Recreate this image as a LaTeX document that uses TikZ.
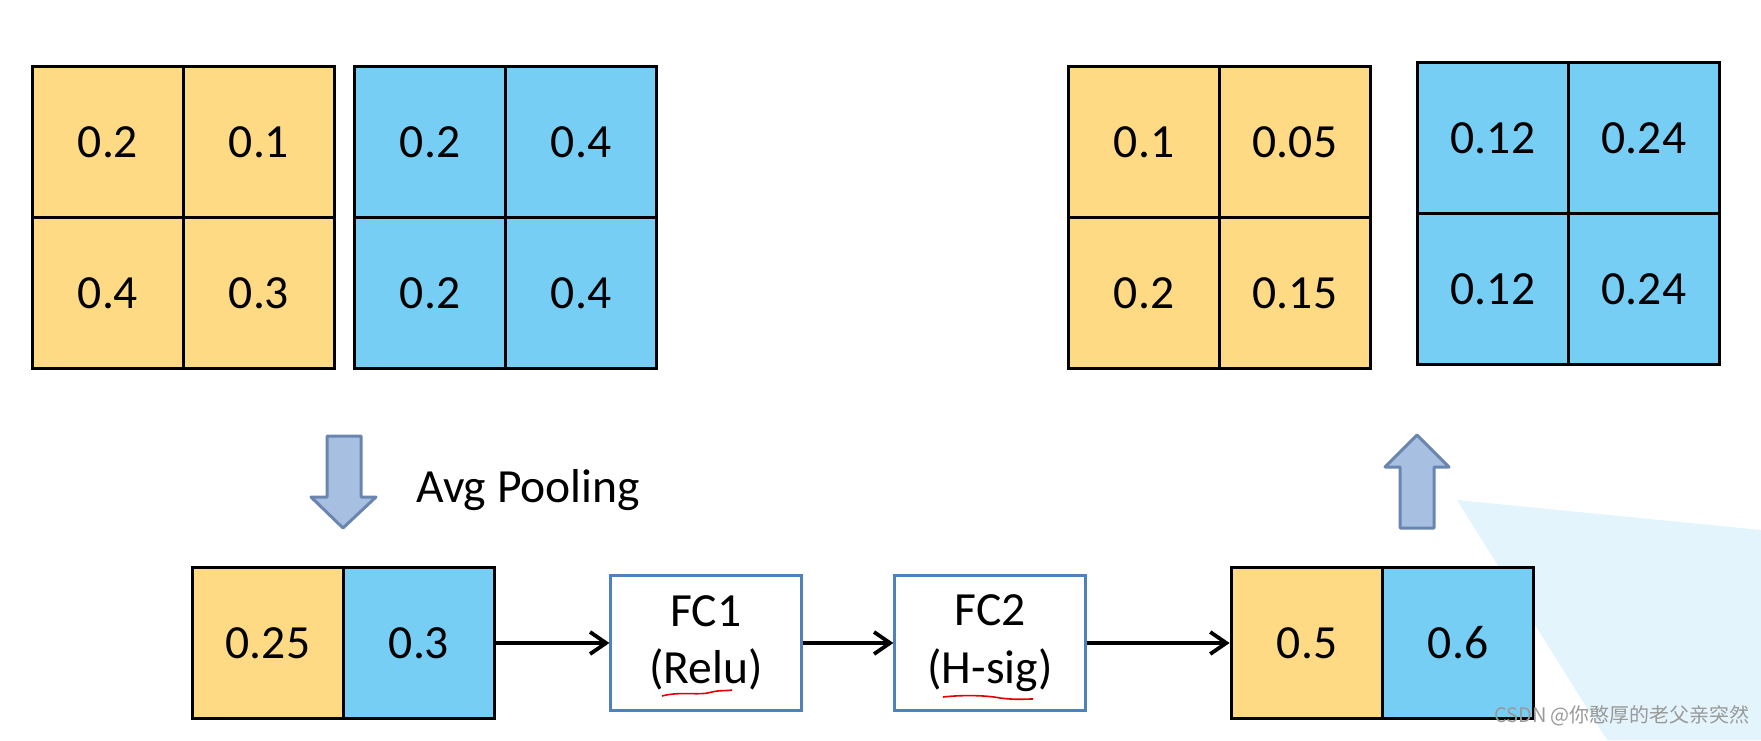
\documentclass[tikz,border=0pt]{standalone}
\usepackage{fontspec}
\setmainfont{Carlito}
\newfontfamily\cjkfont{Noto Sans CJK SC}
\usetikzlibrary{arrows.meta,decorations.pathmorphing}

\definecolor{cellyellow}{RGB}{255,218,132}
\definecolor{cellblue}{RGB}{118,206,244}
\definecolor{fcborder}{RGB}{79,129,189}
\definecolor{arrowfill}{RGB}{167,191,224}
\definecolor{arrowedge}{RGB}{106,134,176}
\definecolor{glare}{RGB}{227,244,252}

\begin{document}
\begin{tikzpicture}[x=0.5pt, y=0.5pt,
    cell/.style={draw=black, line width=1.9pt, minimum width=75.5pt, minimum height=75.5pt,
        inner sep=0pt, font=\fontsize{23.8}{28}\selectfont},
    ycell/.style={cell, fill=cellyellow},
    bcell/.style={cell, fill=cellblue},
    fcbox/.style={draw=fcborder, line width=1.1pt, fill=white, minimum width=95.5pt,
        minimum height=67.5pt, align=center, inner sep=0pt, font=\fontsize{23.8}{28.7}\selectfont},
    flow/.style={line width=1.9pt, -{Straight Barb[length=8pt, width=11pt, line width=1.9pt]}},
    fatarrow/.style={draw=arrowedge, fill=arrowfill, line width=1.5pt, line join=round},
    spell/.style={red!90!black, line width=0.8pt}
]
    \useasboundingbox (0,0) rectangle (1761,740);

    % glare
    \fill[glare] (1457,240) -- (1761,210) -- (1761,0) -- (1607,0) -- cycle;

    % input, first channel
    \node[ycell] (ya11) at (108,598) {0.2};
    \node[ycell] (ya12) at (259,598) {0.1};
    \node[ycell] (ya21) at (108,447) {0.4};
    \node[ycell] (ya22) at (259,447) {0.3};

    % input, second channel
    \node[bcell] (ba11) at (430,598) {0.2};
    \node[bcell] (ba12) at (581,598) {0.4};
    \node[bcell] (ba21) at (430,447) {0.2};
    \node[bcell] (ba22) at (581,447) {0.4};

    % output, first channel
    \node[ycell] (yb11) at (1144,598) {0.1};
    \node[ycell] (yb12) at (1295,598) {0.05};
    \node[ycell] (yb21) at (1144,447) {0.2};
    \node[ycell] (yb22) at (1295,447) {0.15};

    % output, second channel
    \node[bcell] (bb11) at (1493,602) {0.12};
    \node[bcell] (bb12) at (1644,602) {0.24};
    \node[bcell] (bb21) at (1493,451) {0.12};
    \node[bcell] (bb22) at (1644,451) {0.24};

    % pooling
    \draw[fatarrow] (327,304) -- (361,304) -- (361,243) -- (376,243) -- (343,212)
        -- (311,243) -- (327,243) -- cycle;
    \node[anchor=west, inner sep=0pt, font=\fontsize{23.8}{28}\selectfont] (avg) at (416,250) {Avg Pooling};

    % squeeze
    \node[ycell] (pool1) at (268,97) {0.25};
    \node[bcell] (pool2) at (419,97) {0.3};

    % excitation
    \node[fcbox] (fc1) at (706,97) {FC1\\(Relu)};
    \node[fcbox] (fc2) at (990,97) {FC2\\(H-sig)};
    \draw[spell] (662,44) .. controls (680,49) and (700,44) .. (712,48) .. controls (720,50) and (728,49) .. (732,50);
    \draw[spell] (943,43) .. controls (960,45) and (985,45) .. (1000,42) .. controls (1015,40) and (1025,41) .. (1033,41);

    % weights
    \node[ycell] (w1) at (1307,97) {0.5};
    \node[bcell] (w2) at (1458,97) {0.6};

    \draw[flow] (pool2.east) -- (fc1.west);
    \draw[flow] (fc1.east) -- (fc2.west);
    \draw[flow] (fc2.east) -- (w1.west);

    % scale
    \draw[fatarrow] (1400,212) -- (1434,212) -- (1434,273) -- (1449,273) -- (1417,305)
        -- (1385,273) -- (1400,273) -- cycle;

    % watermark
    \node[text=black!40, font=\cjkfont\fontsize{10}{12}\selectfont] (mark) at (1622,24) {CSDN @你憨厚的老父亲突然};
\end{tikzpicture}
\end{document}
